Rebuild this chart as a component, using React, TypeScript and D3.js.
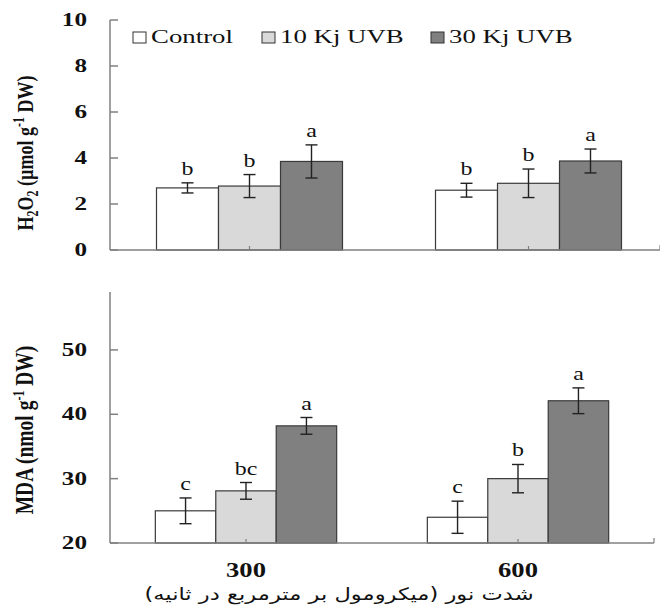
import React from "react";
import * as d3 from "d3";

const groups = ["300", "600"];
const series = ["Control", "10 Kj UVB", "30 Kj UVB"];
const seriesColors = ["#ffffff", "#d9d9d9", "#808080"];

// H2O2 panel
const h2o2Means = [
  [2.7, 2.78, 3.85],
  [2.6, 2.9, 3.87],
];
const h2o2Errors = [
  [0.22, 0.5, 0.72],
  [0.3, 0.62, 0.52],
];
const h2o2Letters = [
  ["b", "b", "a"],
  ["b", "b", "a"],
];
const h2o2Ticks = [0, 2, 4, 6, 8, 10];

// MDA panel
const mdaMeans = [
  [25, 28.1, 38.2],
  [24, 30, 42.1],
];
const mdaErrors = [
  [2, 1.3, 1.3],
  [2.5, 2.2, 2],
];
const mdaLetters = [
  ["c", "bc", "a"],
  ["c", "b", "a"],
];
const mdaTicks = [20, 30, 40, 50];

const xTitle = "شدت نور (میکرومول بر مترمربع در ثانیه)";

const SERIF = "Liberation Serif";
const SX = 1.33; // the source picture is stretched sideways

function T({ x, y, anchor = "middle", size = 18, bold = false, family = SERIF, sx = SX, children }: any) {
  return (
    <text
      transform={`translate(${x},${y}) scale(${sx},1)`}
      textAnchor={anchor}
      fontSize={size}
      fontWeight={bold ? "bold" : "normal"}
      fontFamily={family}
      fill="#111"
    >
      {children}
    </text>
  );
}

function Panel({ means, errors, letters, y, ticks, x0, axisTop, axisRight }: any) {
  const x1 = d3.scaleBand().domain(series).range([0, x0.bandwidth()]);
  const [yBase] = y.range();
  const left = x0.range()[0];
  return (
    <g>
      {/* bars */}
      {groups.map((g, gi) =>
        series.map((s, si) => {
          const bx = x0(g)! + x1(s)!;
          const top = y(means[gi][si]);
          return (
            <rect
              key={g + s}
              x={bx}
              y={top}
              width={x1.bandwidth()}
              height={yBase - top}
              fill={seriesColors[si]}
              stroke="#3a3a3a"
              strokeWidth={1.2}
            />
          );
        })
      )}
      {/* error bars + letters */}
      {groups.map((g, gi) =>
        series.map((s, si) => {
          const cx = x0(g)! + x1(s)! + x1.bandwidth() / 2;
          const hi = y(means[gi][si] + errors[gi][si]);
          const lo = y(means[gi][si] - errors[gi][si]);
          return (
            <g key={"e" + g + s} stroke="#222" strokeWidth={1.4}>
              <line x1={cx} x2={cx} y1={hi} y2={lo} />
              <line x1={cx - 6} x2={cx + 6} y1={hi} y2={hi} />
              <line x1={cx - 6} x2={cx + 6} y1={lo} y2={lo} />
              <g stroke="none">
                <T x={cx} y={hi - 8} size={18}>
                  {letters[gi][si]}
                </T>
              </g>
            </g>
          );
        })
      )}
      {/* y axis */}
      <line x1={left} x2={left} y1={yBase} y2={axisTop} stroke="#808080" strokeWidth={1.5} />
      {ticks.map((t: number) => (
        <g key={t}>
          <line x1={left} x2={left + 8} y1={y(t)} y2={y(t)} stroke="#808080" strokeWidth={1.5} />
          <T x={87} y={y(t) + 6} anchor="end" size={18} sx={1.4} bold>
            {t}
          </T>
        </g>
      ))}
      {/* x baseline */}
      <line x1={left} x2={axisRight} y1={yBase} y2={yBase} stroke="#808080" strokeWidth={1.5} />
      {groups.map((g) => (
        <line
          key={"t" + g}
          x1={x0(g)! + x0.bandwidth() / 2}
          x2={x0(g)! + x0.bandwidth() / 2}
          y1={yBase}
          y2={yBase - 4}
          stroke="#808080"
          strokeWidth={1.2}
        />
      ))}
      <line x1={axisRight} x2={axisRight} y1={yBase} y2={yBase - 5} stroke="#808080" strokeWidth={1.2} />
    </g>
  );
}

export default function App() {
  const xTop = d3.scaleBand().domain(groups).range([110, 668]).paddingInner(1 / 3).paddingOuter(1 / 6);
  const xBot = d3.scaleBand().domain(groups).range([110, 654]).paddingInner(1 / 3).paddingOuter(1 / 6);
  const yTop = d3.scaleLinear().domain([0, 10]).range([250, 20]);
  const yBot = d3.scaleLinear().domain([20, 59]).range([543, 292]);

  const legendX = [133, 262, 431];

  return (
    <svg width={660} height={610} style={{ position: "absolute", left: 0, top: 0, background: "#fff" }}>
      <rect width={660} height={610} fill="#fff" />
      <Panel
        means={h2o2Means}
        errors={h2o2Errors}
        letters={h2o2Letters}
        y={yTop}
        ticks={h2o2Ticks}
        x0={xTop}
        axisTop={yTop(10)}
        axisRight={660}
      />
      <Panel
        means={mdaMeans}
        errors={mdaErrors}
        letters={mdaLetters}
        y={yBot}
        ticks={mdaTicks}
        x0={xBot}
        axisTop={yBot(59)}
        axisRight={654}
      />

      {/* legend */}
      {series.map((s, i) => (
        <g key={s}>
          <rect x={legendX[i]} y={32} width={13} height={11} fill={seriesColors[i]} stroke="#333" strokeWidth={1} />
          <T x={legendX[i] + 18} y={43} anchor="start" size={18.5} sx={1.45}>
            {s}
          </T>
        </g>
      ))}

      {/* y titles */}
      <text
        transform={`translate(33,${153}) rotate(-90) scale(1,${SX})`}
        textAnchor="middle"
        fontSize={18}
        fontWeight="bold"
        fontFamily={SERIF}
        fill="#111"
      >
        H<tspan fontSize={12} dy={4}>2</tspan>
        <tspan dy={-4}>O</tspan>
        <tspan fontSize={12} dy={4}>2</tspan>
        <tspan dy={-4}> (µmol g</tspan>
        <tspan fontSize={12} dy={-7}>-1</tspan>
        <tspan dy={7}> DW)</tspan>
      </text>
      <text
        transform={`translate(33,${430}) rotate(-90) scale(1,${SX})`}
        textAnchor="middle"
        fontSize={19.5}
        fontWeight="bold"
        fontFamily={SERIF}
        fill="#111"
      >
        MDA (nmol g<tspan fontSize={12} dy={-7}>-1</tspan>
        <tspan dy={7}> DW)</tspan>
      </text>

      {/* x labels */}
      {groups.map((g) => (
        <T key={"xl" + g} x={xBot(g)! + xBot.bandwidth() / 2} y={577} size={20} bold>
          {g}
        </T>
      ))}
      <T x={339} y={600} size={17} family="DejaVu Sans">
        {xTitle}
      </T>
    </svg>
  );
}
